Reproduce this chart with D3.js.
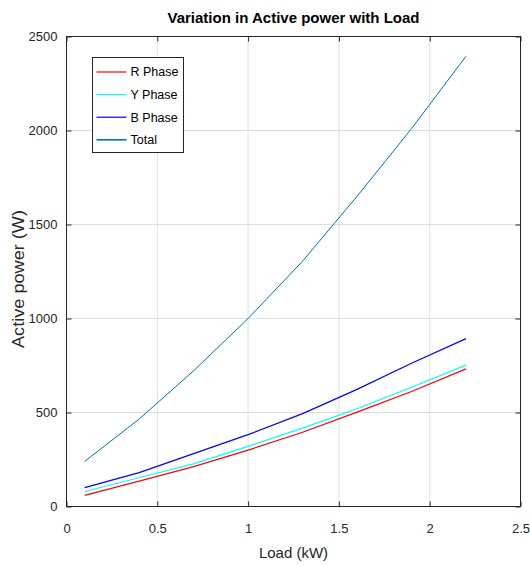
<!DOCTYPE html>
<html>
<head>
<meta charset="utf-8">
<script src="https://cdn.jsdelivr.net/npm/d3@7"></script>
<style>
  html, body { margin: 0; padding: 0; background: #fff; }
  svg { display: block; font-family: "Liberation Sans", Arial, sans-serif; }
</style>
</head>
<body>
<svg id="chart" width="530" height="566"></svg>
<script>
// Load steps (kW)
const load = [0.1, 0.4, 0.7, 1.0, 1.3, 1.6, 1.9, 2.2];
// Active power per phase (W)
const rPhase = [59, 135, 212, 300, 395, 502, 612, 732];
const yPhase = [80, 153, 227, 320, 417, 520, 634, 752];
const bPhase = [100, 180, 281, 382, 494, 623, 762, 893];
const total  = [240, 465, 722, 1000, 1305, 1650, 2010, 2395];

const seriesNames = ["R Phase", "Y Phase", "B Phase", "Total"];
const seriesValues = [rPhase, yPhase, bPhase, total];
const seriesColors = ["#ff0000", "#00ffff", "#0000ff", "#0072bd"];
const seriesWidths = [1.2, 1.2, 1.2, 1.0];

const xTicks = [0, 0.5, 1, 1.5, 2, 2.5];
const yTicks = [0, 500, 1000, 1500, 2000, 2500];

const svg = d3.select("#chart");
const plotL = 66.5, plotR = 520.5, plotT = 36.5, plotB = 506.5;

const x = d3.scaleLinear().domain([0, 2.5]).range([plotL, plotR]);
const y = d3.scaleLinear().domain([0, 2500]).range([plotB, plotT]);

const axisColor = "#262626";

// grid
const grid = svg.append("g");
grid.selectAll("line.gx").data(xTicks.slice(1, -1)).join("line")
  .attr("x1", d => x(d)).attr("x2", d => x(d))
  .attr("y1", plotT).attr("y2", plotB)
  .attr("stroke", "#dfdfdf").attr("stroke-width", 1);
grid.selectAll("line.gy").data(yTicks.slice(1, -1)).join("line")
  .attr("y1", d => y(d)).attr("y2", d => y(d))
  .attr("x1", plotL).attr("x2", plotR)
  .attr("stroke", "#dfdfdf").attr("stroke-width", 1);

// data lines
const line = d3.line().x((d, i) => x(load[i])).y(d => y(d));
seriesValues.forEach((vals, k) => {
  svg.append("path")
    .datum(vals)
    .attr("d", line)
    .attr("fill", "none")
    .attr("stroke", seriesColors[k])
    .attr("stroke-width", seriesWidths[k]);
});

// axes with inward ticks on all four sides
const tickLen = 5;
const bottomAxis = d3.axisBottom(x).tickValues(xTicks).tickSizeInner(-tickLen).tickSizeOuter(0)
  .tickPadding(17).tickFormat(d3.format("~g"));
const topAxis = d3.axisTop(x).tickValues(xTicks).tickSizeInner(-tickLen).tickSizeOuter(0).tickFormat("");
const leftAxis = d3.axisLeft(y).tickValues(yTicks).tickSizeInner(-tickLen).tickSizeOuter(0)
  .tickPadding(9).tickFormat(d3.format("d"));
const rightAxis = d3.axisRight(y).tickValues(yTicks).tickSizeInner(-tickLen).tickSizeOuter(0).tickFormat("");

function styleAxis(g) {
  g.select(".domain").remove();
  g.selectAll("line").attr("stroke", axisColor);
  g.selectAll("text").attr("fill", axisColor).attr("font-size", "13px")
    .attr("font-family", "'Liberation Sans', Arial, sans-serif");
}
svg.append("g").attr("transform", `translate(0,${plotB})`).call(bottomAxis).call(styleAxis);
svg.append("g").attr("transform", `translate(0,${plotT})`).call(topAxis).call(styleAxis);
svg.append("g").attr("transform", `translate(${plotL},0)`).call(leftAxis).call(styleAxis);
svg.append("g").attr("transform", `translate(${plotR},0)`).call(rightAxis).call(styleAxis);

// axes box
svg.append("rect")
  .attr("x", plotL).attr("y", plotT)
  .attr("width", plotR - plotL).attr("height", plotB - plotT)
  .attr("fill", "none").attr("stroke", axisColor).attr("stroke-width", 1);

// title and labels
svg.append("text")
  .attr("x", (plotL + plotR) / 2).attr("y", 23)
  .attr("text-anchor", "middle")
  .attr("font-size", "15px").attr("font-weight", "bold")
  .attr("fill", "#000")
  .text("Variation in Active power with Load");

svg.append("text")
  .attr("x", (plotL + plotR) / 2).attr("y", 558)
  .attr("text-anchor", "middle")
  .attr("font-size", "15px").attr("fill", axisColor)
  .text("Load (kW)");

svg.append("text")
  .attr("transform", "translate(23.5,279) rotate(-90)")
  .attr("text-anchor", "middle")
  .attr("font-size", "16px").attr("fill", axisColor)
  .attr("textLength", 138).attr("lengthAdjust", "spacingAndGlyphs")
  .text("Active power (W)");

// legend
const lg = svg.append("g").attr("transform", "translate(92.5,57.5)");
lg.append("rect")
  .attr("width", 91).attr("height", 95)
  .attr("fill", "#fff").attr("stroke", "#262626").attr("stroke-width", 1);
seriesNames.forEach((name, k) => {
  const cy = 14.5 + k * 22.6;
  lg.append("line")
    .attr("x1", 4).attr("x2", 34).attr("y1", cy).attr("y2", cy)
    .attr("stroke", seriesColors[k]).attr("stroke-width", k === 3 ? 1.6 : 1.2);
  lg.append("text")
    .attr("x", 38).attr("y", cy).attr("dy", "0.35em")
    .attr("font-size", "12.5px").attr("fill", "#000")
    .text(name);
});
</script>
</body>
</html>
